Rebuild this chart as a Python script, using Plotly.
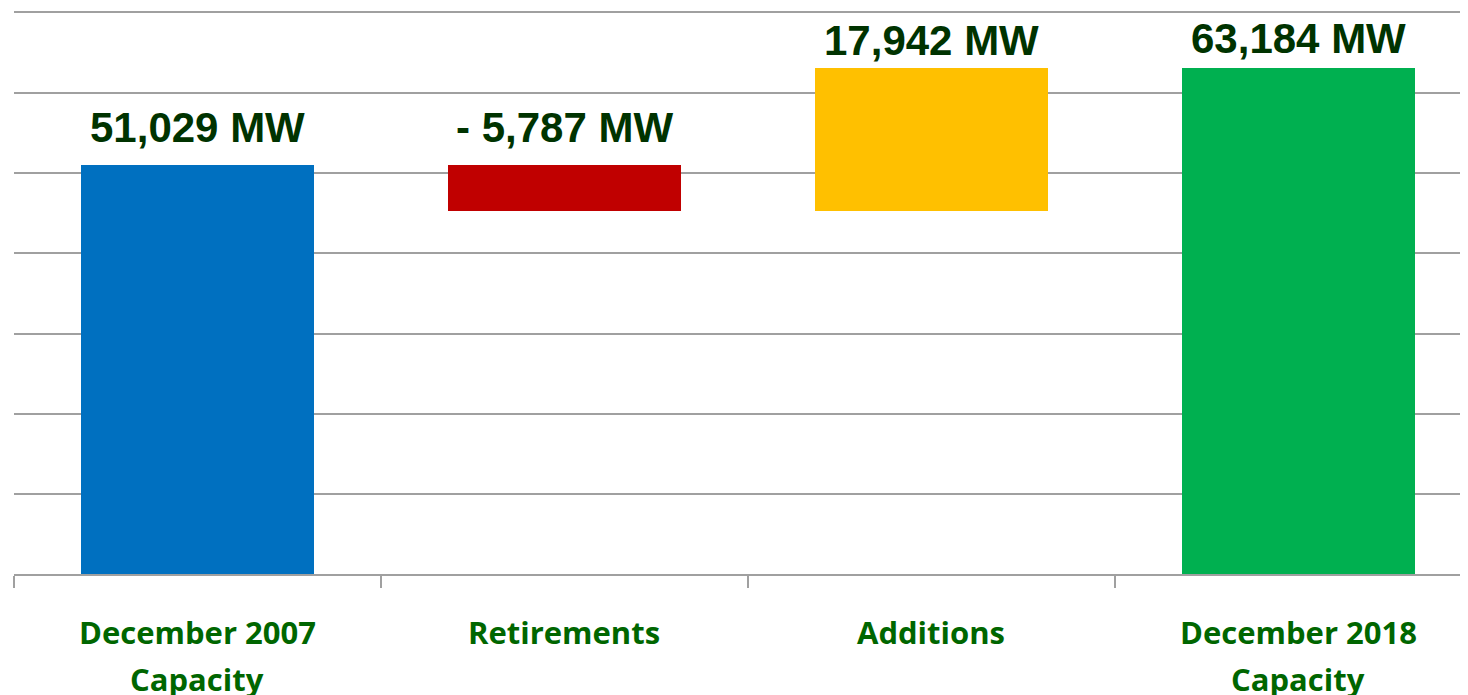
import plotly.graph_objects as go

cat_line1 = ["December 2007", "Retirements", "Additions", "December 2018"]
cat_line2 = ["Capacity", "", "", "Capacity"]
measures = ["absolute", "relative", "relative", "total"]
values = [51029, -5787, 17942, 63184]
value_labels = ["51,029 MW", "- 5,787 MW", "17,942 MW", "63,184 MW"]
bar_colors = ["#0070C0", "#C00000", "#FFC000", "#00B050"]

# compute bar bases/heights from the waterfall values
bases, heights, tops = [], [], []
running = 0
for m, v in zip(measures, values):
    if m == "absolute":
        running = v
        bases.append(0); heights.append(v); tops.append(v)
    elif m == "total":
        bases.append(0); heights.append(running); tops.append(running)
    else:
        start = running
        running += v
        lo, hi = min(start, running), max(start, running)
        bases.append(lo); heights.append(hi - lo); tops.append(hi)

x_idx = list(range(len(cat_line1)))

fig = go.Figure()
fig.add_trace(go.Bar(
    x=x_idx, y=heights, base=bases,
    marker=dict(color=bar_colors, line=dict(width=0)),
    width=0.635, hoverinfo="skip", showlegend=False,
))

label_shift = [12, 12, 2, 4]
for i, (t, lab) in enumerate(zip(tops, value_labels)):
    fig.add_annotation(
        x=i, y=t, text="<b>%s</b>" % lab, showarrow=False,
        xanchor="center", yanchor="bottom", yshift=label_shift[i],
        font=dict(family="Liberation Sans, Arial", size=42, color="#003300"),
    )

cat_font = dict(family="Open Sans", size=31, color="#006600")
for i, (l1, l2) in enumerate(zip(cat_line1, cat_line2)):
    fig.add_annotation(
        x=i, y=0, yref="y", text="<b>%s</b>" % l1, showarrow=False,
        xanchor="center", yanchor="middle", yshift=-58, font=cat_font,
    )
    if l2:
        fig.add_annotation(
            x=i, y=0, yref="y", text="<b>%s</b>" % l2, showarrow=False,
            xanchor="center", yanchor="middle", yshift=-105, font=cat_font,
        )

fig.update_layout(
    width=1468, height=695,
    margin=dict(l=6, r=8, t=3, b=129),
    paper_bgcolor="white", plot_bgcolor="white",
    bargap=0,
)
fig.update_xaxes(
    range=[-0.5, 3.462], showticklabels=False, showgrid=False,
    tickmode="array", tickvals=[i - 0.5 for i in x_idx],
    ticks="outside", ticklen=12, tickwidth=2, tickcolor="#A0A0A0",
    showline=True, mirror=True, linecolor="#A0A0A0", linewidth=2, zeroline=False,
)
fig.update_yaxes(
    range=[0, 70000], dtick=10000, showticklabels=False,
    showgrid=True, gridcolor="#A0A0A0", gridwidth=2, zeroline=False,
)

fig.write_html("out.html")
